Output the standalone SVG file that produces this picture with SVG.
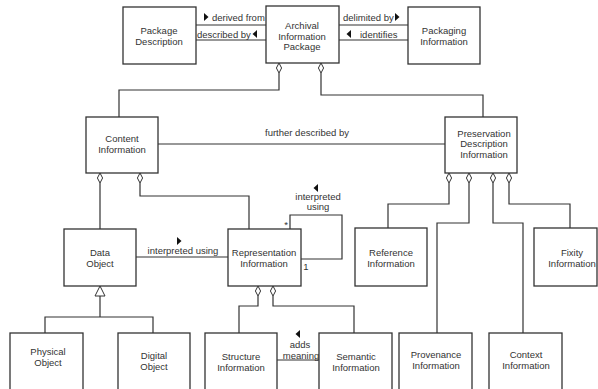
<svg xmlns="http://www.w3.org/2000/svg" width="598" height="389" viewBox="0 0 598 389">
<defs>
<style>
.box{fill:#fff;stroke:#333;stroke-width:1.3}
.ln{fill:none;stroke:#333;stroke-width:1.2}
.dm{fill:#fff;stroke:#333;stroke-width:1}
.ar{fill:#111}
text{font-family:"Liberation Sans",Arial,sans-serif;font-size:9.5px;fill:#333;text-anchor:middle}
.lb{text-anchor:start}
</style>
<path id="dia" d="M0,0 L2.6,5 L0,10 L-2.6,5 Z"/>
</defs>
<rect width="598" height="389" fill="#fff"/>
<g id="connectors">
<path class="ln" d="M196,25H266M196,40H266M339,25H408M339,40H408"/>
<path class="ln" d="M279,73V90H119V117M321,73V95H483V117"/>
<path class="ln" d="M158,144H445"/>
<path class="ln" d="M100,183V229M140,183V196H249V229"/>
<path class="ln" d="M136,257H228"/>
<path class="ln" d="M290,229V215H342V259H301"/>
<path class="ln" d="M258,296V306H239V333M273,296V306H354V333"/>
<path class="ln" d="M277,360H319"/>
<path class="ln" d="M449,183V204H388V228M469,183V223H437V333M493,183V223H523V333M509,183V204H570V228"/>
<path class="ln" d="M100,296V317M45,333V317H153V333"/>
<path class="dm" d="M100,286L105,296H95Z"/>
<use href="#dia" class="dm" x="279" y="63"/>
<use href="#dia" class="dm" x="321" y="63"/>
<use href="#dia" class="dm" x="100" y="173"/>
<use href="#dia" class="dm" x="140" y="173"/>
<use href="#dia" class="dm" x="449" y="173"/>
<use href="#dia" class="dm" x="469" y="173"/>
<use href="#dia" class="dm" x="493" y="173"/>
<use href="#dia" class="dm" x="509" y="173"/>
<use href="#dia" class="dm" x="258" y="286"/>
<use href="#dia" class="dm" x="273" y="286"/>
<path class="ar" d="M204,13L208.5,17L204,21Z"/>
<path class="ar" d="M257,30L252.5,34L257,38Z"/>
<path class="ar" d="M395,13L399.5,17L395,21Z"/>
<path class="ar" d="M351,30L346.5,34L351,38Z"/>
<path class="ar" d="M177,237L181.5,241L177,245Z"/>
<path class="ar" d="M318,184L313.5,188L318,192Z"/>
<path class="ar" d="M300,330L295.5,334L300,338Z"/>
<text class="lb" x="212" y="20.5">derived from</text>
<text class="lb" x="197" y="37.5">described by</text>
<text class="lb" x="343" y="20.5">delimited by</text>
<text class="lb" x="360" y="37.5">identifies</text>
<text x="307" y="136">further described by</text>
<text x="183" y="254">interpreted using</text>
<text x="318" y="200">interpreted</text>
<text x="318" y="210">using</text>
<text x="286" y="228">*</text>
<text x="306" y="270">1</text>
<text x="300" y="348">adds</text>
<text x="301" y="359">meaning</text>
</g>
<g id="package-description"><rect class="box" x="123" y="7" width="73" height="57"/><text x="159" y="33.5">Package</text><text x="159" y="44.5">Description</text></g>
<g id="aip"><rect class="box" x="266" y="6" width="73" height="57"/><text x="302" y="28.5">Archival</text><text x="302" y="39.5">Information</text><text x="302" y="49.5">Package</text></g>
<g id="packaging-information"><rect class="box" x="408" y="7" width="72" height="57"/><text x="444" y="33.5">Packaging</text><text x="444" y="44.5">Information</text></g>
<g id="content-information"><rect class="box" x="86" y="117" width="72" height="56"/><text x="122" y="142">Content</text><text x="122" y="152.5">Information</text></g>
<g id="pdi"><rect class="box" x="445" y="117" width="72" height="56"/><text x="484" y="136.5">Preservation</text><text x="484" y="147">Description</text><text x="484" y="157.5">Information</text></g>
<g id="data-object"><rect class="box" x="64" y="229" width="72" height="57"/><text x="100" y="255.5">Data</text><text x="100" y="266.5">Object</text></g>
<g id="representation-information"><rect class="box" x="228" y="229" width="73" height="57"/><text x="264" y="255.5">Representation</text><text x="264" y="266.5">Information</text></g>
<g id="reference-information"><rect class="box" x="355" y="228" width="72" height="58"/><text x="391" y="255.5">Reference</text><text x="391" y="266.5">Information</text></g>
<g id="fixity-information"><rect class="box" x="534" y="228" width="63" height="58"/><text x="572" y="255.5">Fixity</text><text x="572" y="266.5">Information</text></g>
<g id="physical-object"><rect class="box" x="10" y="333" width="73" height="62"/><text x="48" y="354.5">Physical</text><text x="48" y="365.5">Object</text></g>
<g id="digital-object"><rect class="box" x="118" y="333" width="72" height="62"/><text x="154" y="358.5">Digital</text><text x="154" y="370">Object</text></g>
<g id="structure-information"><rect class="box" x="205" y="333" width="72" height="62"/><text x="241" y="359.5">Structure</text><text x="241" y="370.5">Information</text></g>
<g id="semantic-information"><rect class="box" x="319" y="333" width="73" height="62"/><text x="356" y="359.5">Semantic</text><text x="356" y="370.5">Information</text></g>
<g id="provenance-information"><rect class="box" x="399" y="333" width="73" height="62"/><text x="436" y="357.5">Provenance</text><text x="436" y="369">Information</text></g>
<g id="context-information"><rect class="box" x="489" y="333" width="73" height="62"/><text x="526" y="357.5">Context</text><text x="526" y="369">Information</text></g>
</svg>
